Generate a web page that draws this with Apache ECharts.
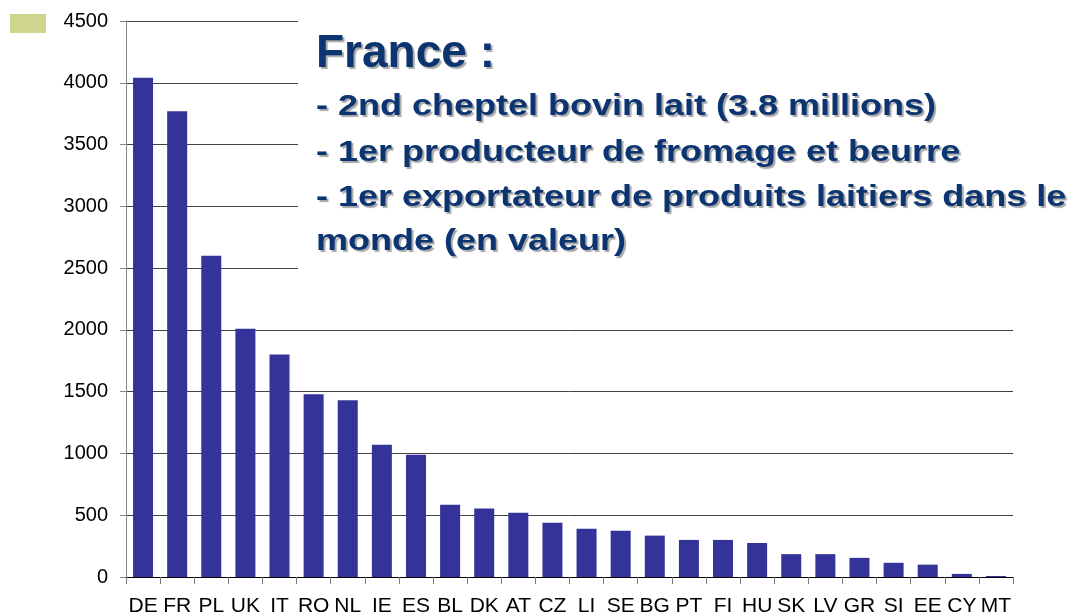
<!DOCTYPE html>
<html>
<head>
<meta charset="utf-8">
<script src="https://cdn.jsdelivr.net/npm/echarts@6/dist/echarts.min.js"></script>
<style>
    html, body { margin: 0; padding: 0; background: #fff; }
    #chart { width: 1077px; height: 616px; }
</style>
</head>
<body>
<div id="chart"></div>
<script>
// pays (codes) et cheptel bovin lait (milliers de têtes)
var countries = ['DE', 'FR', 'PL', 'UK', 'IT', 'RO', 'NL', 'IE', 'ES', 'BL', 'DK', 'AT', 'CZ',
    'LI', 'SE', 'BG', 'PT', 'FI', 'HU', 'SK', 'LV', 'GR', 'SI', 'EE', 'CY', 'MT'];
var dairyCows = [4040, 3770, 2600, 2010, 1800, 1480, 1430, 1070, 990, 585, 555, 520, 440,
    390, 375, 335, 300, 300, 275, 185, 185, 155, 115, 100, 25, 8];
var yMin = 0, yMax = 4500, yStep = 500;

var legendName = ' ';
var noteTitle = 'France :';
var noteLines = [
    '- 2nd cheptel bovin lait (3.8 millions)',
    '- 1er producteur de fromage et beurre',
    '- 1er exportateur de produits laitiers dans le',
    'monde (en valeur)'
];

var myChart = echarts.init(document.getElementById('chart'));

var txtColor = '#0b3470';
var shadow = { textShadowColor: 'rgba(0,0,0,0.35)', textShadowOffsetX: 2, textShadowOffsetY: 2, textShadowBlur: 1 };

// bloc de texte (fond blanc qui masque les lignes de grille)
var graphics = [
    { type: 'rect', left: 298, top: 14, z: 5, shape: { width: 779, height: 308 }, style: { fill: '#fff' } },
    {
        type: 'text', x: 316, y: 31, z: 6,
        style: Object.assign({ text: noteTitle, fill: txtColor, verticalAlign: 'top', font: 'bold 46px "Liberation Sans", Arial, sans-serif' }, shadow)
    }
];
// texte un peu étiré en largeur comme dans la diapo d'origine
var lineTops = [92, 138, 183, 227];
noteLines.forEach(function (t, i) {
    graphics.push({
        type: 'text', x: 316, y: lineTops[i], z: 6, scaleX: 1.2,
        style: Object.assign({ text: t, fill: txtColor, verticalAlign: 'top', font: 'bold 30px "Liberation Sans", Arial, sans-serif' }, shadow)
    });
});

var option = {
    animation: false,
    backgroundColor: '#fff',
    textStyle: { fontFamily: '"Liberation Sans", Arial, sans-serif' },
    legend: {
        left: 5, top: 9, itemWidth: 36, itemHeight: 19, itemGap: 0,
        data: [{ name: legendName, icon: 'rect' }],
        textStyle: { fontSize: 1 }
    },
    grid: { left: 126, right: 64, top: 21, bottom: 39, containLabel: false, outerBoundsMode: 'none' },
    xAxis: {
        type: 'category',
        data: countries,
        axisLine: { lineStyle: { color: '#000', width: 1 } },
        axisTick: { show: true, length: 7, lineStyle: { color: '#777' } },
        axisLabel: { interval: 0, fontSize: 21, color: '#000', margin: 19 }
    },
    yAxis: {
        type: 'value',
        min: yMin, max: yMax, interval: yStep,
        axisLine: { show: true, lineStyle: { color: '#888' } },
        axisTick: { show: true, length: 6, lineStyle: { color: '#888' } },
        axisLabel: { fontSize: 20, color: '#000', margin: 18, formatter: function (v) { return String(v); } },
        splitLine: { lineStyle: { color: '#444', width: 1 } }
    },
    series: [
        {
            name: 'cheptel',
            type: 'bar',
            data: dairyCows,
            barWidth: 20,
            itemStyle: { color: '#333399' }
        },
        {
            name: legendName,
            type: 'line',
            data: [],
            itemStyle: { color: '#d0d58e' }
        }
    ],
    graphic: graphics
};
myChart.setOption(option);
</script>
</body>
</html>
